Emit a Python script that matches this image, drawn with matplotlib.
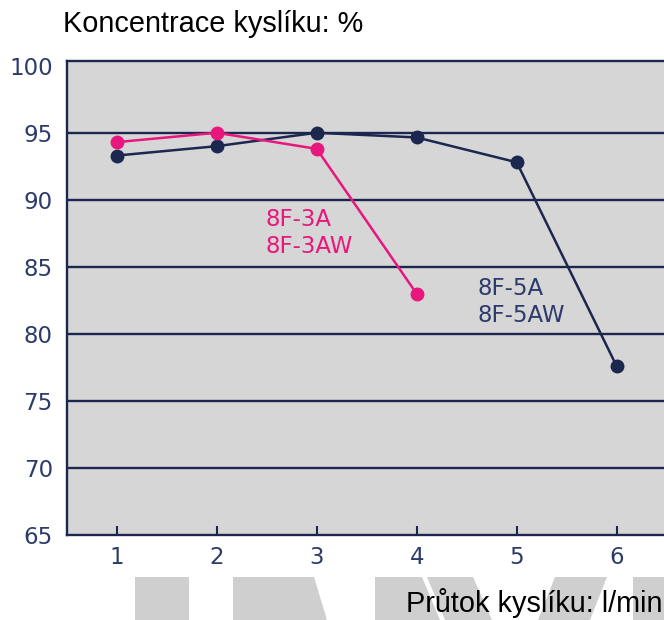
import matplotlib.pyplot as plt
from matplotlib.patches import Polygon

# flow (l/min) vs oxygen concentration (%)
flow_5a = [1, 2, 3, 4, 5, 6]
conc_5a = [93.3, 94.0, 95.0, 94.65, 92.8, 77.6]
flow_3a = [1, 2, 3, 4]
conc_3a = [94.3, 95.0, 93.8, 83.0]

y_ticks = [65, 70, 75, 80, 85, 90, 95, 100]
x_ticks = [1, 2, 3, 4, 5, 6]

navy = '#1c2750'
pink = '#e8177d'
label_col = '#2d3b6b'

W, H = 664, 620
fig = plt.figure(figsize=(W / 100, H / 100), dpi=100)

# grey watermark shapes at the bottom (pixel coords, top-left origin)
shapes = [
    [(135, 577), (189, 577), (189, 620), (135, 620)],
    [(233, 577), (314, 577), (327, 620), (233, 620)],
    [(375, 577), (422, 577), (440, 620), (375, 620)],
    [(427, 577), (473, 577), (492, 620), (445, 620)],
    [(555, 577), (607, 577), (590, 620), (538, 620)],
    [(633, 577), (664, 577), (664, 620), (633, 620)],
]
for s in shapes:
    pts = [(x / W, 1 - y / H) for x, y in s]
    fig.patches.append(Polygon(pts, closed=True, transform=fig.transFigure,
                               facecolor='#cfcfcf', edgecolor='none', zorder=0))

ax = fig.add_axes([66.7 / W, 84.7 / H, 1 - 66.7 / W, (535.3 - 60.7) / H])
ax.set_facecolor('#d6d6d6')
ax.set_xlim(0.5, 6.473)
ax.set_ylim(65, 100.37)

for v in y_ticks[1:-1]:
    ax.axhline(v, color=navy, lw=1.7, zorder=1)

ax.plot(flow_5a, conc_5a, color=navy, lw=1.8, marker='o', ms=9, zorder=3)
ax.plot(flow_3a, conc_3a, color=pink, lw=1.8, marker='o', ms=9, zorder=4)

ax.text(2.49, 87.5, '8F-3A\n8F-3AW', color=pink, fontsize=16.5,
        family='DejaVu Sans', va='center', ha='left', linespacing=1.22)
ax.text(4.61, 82.4, '8F-5A\n8F-5AW', color=label_col, fontsize=16.5,
        family='DejaVu Sans', va='center', ha='left', linespacing=1.22)

ax.set_xticks(x_ticks)
ax.set_yticks(y_ticks)
ax.tick_params(axis='x', direction='in', length=6.3, width=1.5, color=navy,
               labelcolor=label_col, labelsize=16.5, pad=8)
ax.tick_params(axis='y', length=0, labelcolor=label_col, labelsize=16.5, pad=10)
for lab in ax.get_xticklabels() + ax.get_yticklabels():
    lab.set_family('DejaVu Sans')

for side in ['left', 'bottom', 'top']:
    ax.spines[side].set_color(navy)
    ax.spines[side].set_linewidth(1.7)
ax.spines['right'].set_visible(False)

fig.text(63 / W, 1 - 31.7 / H, 'Koncentrace kyslíku: %', family='Liberation Sans',
         fontsize=20.8, va='baseline', ha='left', color='black')
fig.text(662 / W, 8.3 / H, 'Průtok kyslíku: l/min', family='Liberation Sans',
         fontsize=20.8, va='baseline', ha='right', color='black', zorder=5)

fig.savefig('out.png', dpi=100)
